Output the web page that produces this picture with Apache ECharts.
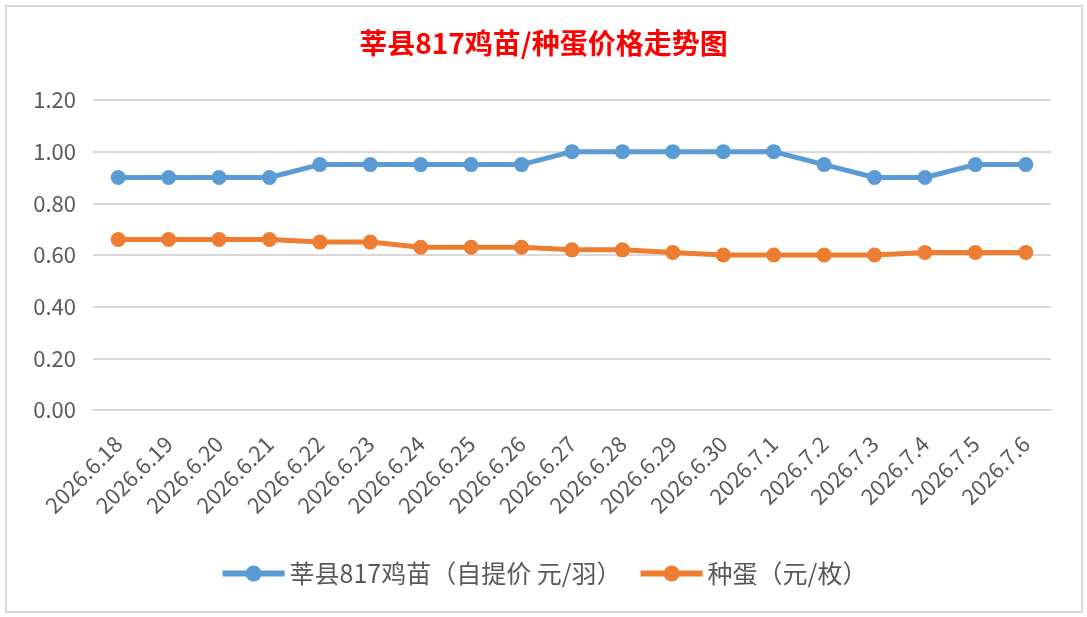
<!DOCTYPE html>
<html>
<head>
    <meta charset="utf-8">
    <title>莘县817鸡苗/种蛋价格走势图</title>
    <script src="https://cdn.jsdelivr.net/npm/echarts@6/dist/echarts.min.js"></script>
    <style>
        html, body { margin: 0; padding: 0; background: #fff; }
        #chart { width: 1087px; height: 617px; }
        /* chart frame, like the Excel chart box */
        .frame {
            position: absolute; left: 5px; top: 5px; width: 1074px; height: 604px;
            border: 2px solid #d9d9d9; pointer-events: none;
        }
    </style>
</head>
<body>
    <div id="chart"></div>
    <div class="frame"></div>

    <script>
        var dates = ['2026.6.18', '2026.6.19', '2026.6.20', '2026.6.21', '2026.6.22', '2026.6.23',
            '2026.6.24', '2026.6.25', '2026.6.26', '2026.6.27', '2026.6.28', '2026.6.29',
            '2026.6.30', '2026.7.1', '2026.7.2', '2026.7.3', '2026.7.4', '2026.7.5', '2026.7.6'];
        var chickPrice = [0.90, 0.90, 0.90, 0.90, 0.95, 0.95, 0.95, 0.95, 0.95, 1.00,
            1.00, 1.00, 1.00, 1.00, 0.95, 0.90, 0.90, 0.95, 0.95];
        var eggPrice = [0.66, 0.66, 0.66, 0.66, 0.65, 0.65, 0.63, 0.63, 0.63, 0.62,
            0.62, 0.61, 0.60, 0.60, 0.60, 0.60, 0.61, 0.61, 0.61];
        var seriesNames = ['莘县817鸡苗（自提价 元/羽）', '种蛋（元/枚）'];

        var fontFamily = '"Microsoft YaHei", "Noto Sans CJK SC", sans-serif';
        var chart = echarts.init(document.getElementById('chart'));

        function lineSeries(name, data, color) {
            return {
                name: name,
                type: 'line',
                data: data,
                symbol: 'circle',
                symbolSize: 15,
                itemStyle: { color: color },
                lineStyle: { width: 5, color: color },
                animation: false
            };
        }

        var option = {
            title: {
                text: '莘县817鸡苗/种蛋价格走势图',
                left: 'center',
                top: 24,
                textStyle: { color: '#ff0000', fontSize: 28, fontWeight: 'bold', fontFamily: fontFamily }
            },
            grid: { left: 93, right: 36, top: 100, bottom: 207 },
            legend: {
                data: seriesNames,
                bottom: 26,
                left: 'center',
                itemWidth: 62,
                itemHeight: 20,
                itemGap: 16,
                lineStyle: { width: 6 },
                textStyle: { color: '#595959', fontSize: 25, fontFamily: fontFamily }
            },
            xAxis: {
                type: 'category',
                data: dates,
                axisLine: { lineStyle: { color: '#d9d9d9', width: 2 } },
                axisTick: { show: false },
                axisLabel: { rotate: 45, color: '#595959', fontSize: 22, margin: 30, interval: 0, fontFamily: fontFamily }
            },
            yAxis: {
                type: 'value',
                min: 0,
                max: 1.2,
                interval: 0.2,
                axisLine: { show: false },
                axisTick: { show: false },
                splitLine: { lineStyle: { color: '#d9d9d9', width: 2 } },
                axisLabel: {
                    color: '#595959', fontSize: 22, margin: 17, fontFamily: fontFamily,
                    formatter: function (v) { return v.toFixed(2); }
                }
            },
            series: [
                lineSeries(seriesNames[0], chickPrice, '#5b9bd5'),
                lineSeries(seriesNames[1], eggPrice, '#ed7d31')
            ]
        };

        chart.setOption(option);
    </script>
</body>
</html>
